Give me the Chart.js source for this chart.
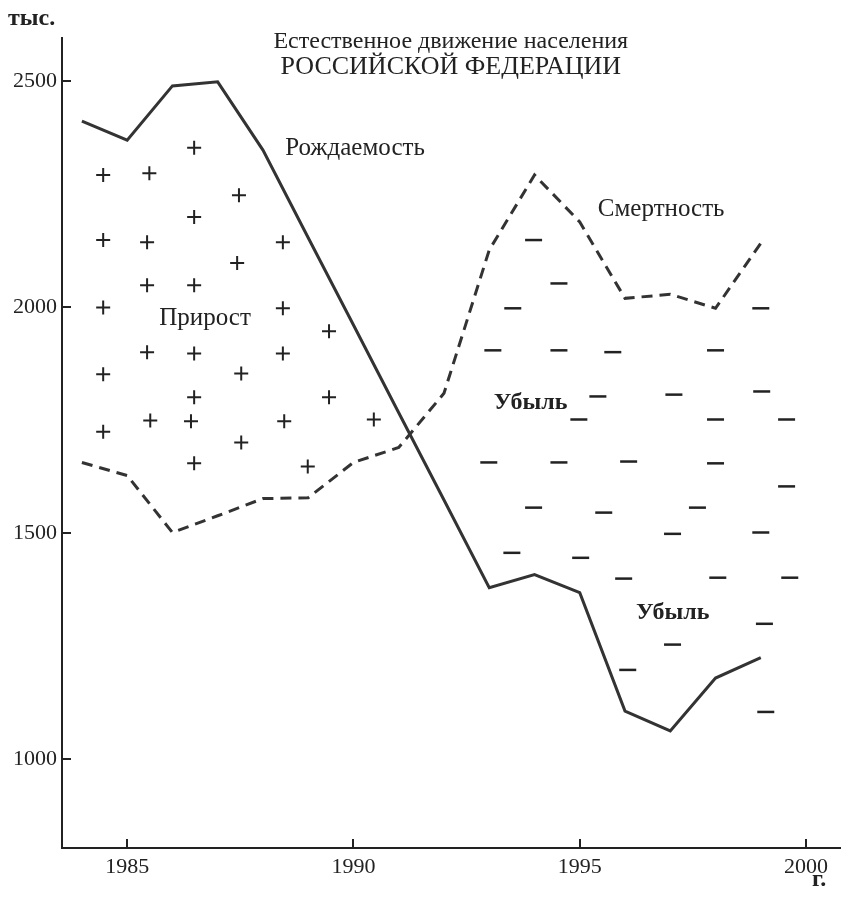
<!DOCTYPE html>
<html>
<head>
<meta charset="utf-8">
<script src="https://cdn.jsdelivr.net/npm/chart.js@4/dist/chart.umd.min.js"></script>
<style>
  body { margin: 0; background: #fff; }
  canvas { display: block; }
</style>
</head>
<body>
<canvas id="chart" width="841" height="897"></canvas>
<script>
// years on the x axis
const years = [1984, 1985, 1986, 1987, 1988, 1989, 1990, 1991, 1992, 1993, 1994, 1995, 1996, 1997, 1998, 1999];

// thousands of people
const births = [2411, 2369, 2489, 2498, 2347, 2153, 1960, 1766, 1573, 1379, 1408, 1368, 1106, 1062, 1179, 1224];
const deaths = [1656, 1627, 1501, 1538, 1576, 1578, 1656, 1689, 1809, 2126, 2292, 2188, 2019, 2028, 1997, 2141];

// "+" marks of the growth area (year, value)
const plusX = [1984.47, 1985.49, 1986.48, 1987.47, 1986.48, 1984.47, 1985.44, 1988.44, 1987.43, 1985.44,
  1986.48, 1984.47, 1988.44, 1989.46, 1985.44, 1986.48, 1988.44, 1984.47, 1987.52, 1986.48,
  1989.46, 1985.51, 1986.41, 1988.47, 1990.45, 1984.47, 1987.52, 1986.48, 1988.99];
const plusY = [2292, 2296, 2352, 2247, 2199, 2148, 2143, 2143, 2097, 2048,
  2048, 1999, 1997, 1946, 1900, 1897, 1897, 1851, 1853, 1800,
  1800, 1749, 1747, 1747, 1751, 1724, 1700, 1654, 1647];

// "-" marks of the loss area (year, value)
const minusX = [1993.98, 1994.54, 1993.52, 1999.00, 1993.08, 1994.54, 1995.73, 1998.00, 1995.40, 1997.08,
  1999.02, 1994.98, 1998.00, 1999.57, 1992.99, 1994.54, 1996.08, 1998.00, 1999.57, 1993.98,
  1995.53, 1997.60, 1997.05, 1999.00, 1993.50, 1995.02, 1995.97, 1998.05, 1999.64, 1999.08,
  1997.05, 1996.06, 1999.11];
const minusY = [2148, 2052, 1997, 1997, 1904, 1904, 1900, 1904, 1802, 1806,
  1813, 1751, 1751, 1751, 1656, 1656, 1658, 1654, 1603, 1556,
  1545, 1556, 1498, 1501, 1456, 1445, 1399, 1401, 1401, 1299,
  1253, 1197, 1104];

const xTicks = [1985, 1990, 1995, 2000];
const yTicks = [1000, 1500, 2000, 2500];

const titleLines = ["Естественное движение населения", "РОССИЙСКОЙ ФЕДЕРАЦИИ"];
const unitY = "тыс.";
const unitX = "г.";

const INK = "#222";
const LINE = "#333";
const SERIF = "'Liberation Serif', 'DejaVu Serif', serif";

// text placed in the plot, anchored at (year, value)
const notes = [
  { text: "Рождаемость", x: 1988.49, y: 2336, bold: false },
  { text: "Смертность", x: 1995.40, y: 2201, bold: false },
  { text: "Прирост", x: 1985.71, y: 1959, bold: false },
  { text: "Убыль", x: 1993.10, y: 1775, bold: true },
  { text: "Убыль", x: 1996.24, y: 1310, bold: true },
];

const toPoints = (xs, ys) => xs.map((x, i) => ({ x: x, y: ys[i] }));

const decorations = {
  id: "decorations",
  afterDraw(chart) {
    const { ctx, scales, chartArea } = chart;
    const xs = scales.x, ys = scales.y;
    ctx.save();

    // inner tick marks
    ctx.strokeStyle = INK;
    ctx.lineWidth = 2;
    yTicks.forEach((v) => {
      const py = Math.round(ys.getPixelForValue(v));
      ctx.beginPath();
      ctx.moveTo(chartArea.left, py);
      ctx.lineTo(chartArea.left + 9, py);
      ctx.stroke();
    });
    xTicks.forEach((v) => {
      const px = Math.round(xs.getPixelForValue(v));
      ctx.beginPath();
      ctx.moveTo(px, chartArea.bottom);
      ctx.lineTo(px, chartArea.bottom - 9);
      ctx.stroke();
    });

    ctx.fillStyle = INK;
    ctx.textBaseline = "alphabetic";

    // year labels under the axis (drawn here so the last one may overhang)
    ctx.textAlign = "center";
    ctx.font = "22px " + SERIF;
    xTicks.forEach((v) => {
      ctx.fillText(String(v), xs.getPixelForValue(v), chartArea.bottom + 25);
    });

    // title
    const cx = xs.getPixelForValue(1992.15);
    ctx.font = "24px " + SERIF;
    ctx.fillText(titleLines[0], cx, ys.getPixelForValue(2573));
    ctx.font = "26px " + SERIF;
    ctx.fillText(titleLines[1], cx, ys.getPixelForValue(2516));

    // labels inside plot
    ctx.textAlign = "left";
    notes.forEach((n) => {
      ctx.font = n.bold ? "bold 24px " + SERIF : "25px " + SERIF;
      ctx.fillText(n.text, xs.getPixelForValue(n.x), ys.getPixelForValue(n.y));
    });

    // units
    ctx.font = "bold 24px " + SERIF;
    ctx.fillText(unitY, 8, 25);
    ctx.fillText(unitX, xs.getPixelForValue(2000) + 6, 886);

    ctx.restore();
  },
};

const ctx = document.getElementById("chart").getContext("2d");

new Chart(ctx, {
  type: "scatter",
  data: {
    datasets: [
      {
        label: "Рождаемость",
        type: "line",
        data: toPoints(years, births),
        borderColor: LINE,
        borderWidth: 3,
        pointRadius: 0,
        tension: 0,
        fill: false,
      },
      {
        label: "Смертность",
        type: "line",
        data: toPoints(years, deaths),
        borderColor: LINE,
        borderWidth: 3,
        borderDash: [11, 7],
        pointRadius: 0,
        tension: 0,
        fill: false,
      },
      {
        label: "Прирост",
        data: toPoints(plusX, plusY),
        pointStyle: "cross",
        pointRadius: 7,
        borderWidth: 2,
        borderColor: INK,
        backgroundColor: INK,
      },
      {
        label: "Убыль",
        data: toPoints(minusX, minusY),
        pointStyle: "line",
        pointRadius: 8.5,
        borderWidth: 2.5,
        borderColor: INK,
        backgroundColor: INK,
      },
    ],
  },
  options: {
    responsive: false,
    animation: false,
    devicePixelRatio: 1,
    layout: { autoPadding: false, padding: { top: 38, right: 1, left: 0, bottom: 0 } },
    plugins: {
      legend: { display: false },
      tooltip: { enabled: false },
      title: { display: false },
    },
    scales: {
      x: {
        type: "linear",
        min: 1983.56,
        max: 2000.75,
        afterBuildTicks: (s) => { s.ticks = xTicks.map((v) => ({ value: v })); },
        afterFit: (s) => { s.height = 49; },
        grid: { display: false, drawTicks: false },
        border: { display: true, color: INK, width: 2 },
        ticks: { display: false },
      },
      y: {
        type: "linear",
        min: 803,
        max: 2595,
        afterBuildTicks: (s) => { s.ticks = yTicks.map((v) => ({ value: v })); },
        afterFit: (s) => { s.width = 62; s.paddingTop = 0; s.paddingBottom = 0; },
        grid: { display: false, drawTicks: false },
        border: { display: true, color: INK, width: 2 },
        ticks: {
          color: INK,
          padding: 5,
          font: { family: SERIF, size: 22 },
          callback: (v) => String(v),
        },
      },
    },
  },
  plugins: [decorations],
});
</script>
</body>
</html>
